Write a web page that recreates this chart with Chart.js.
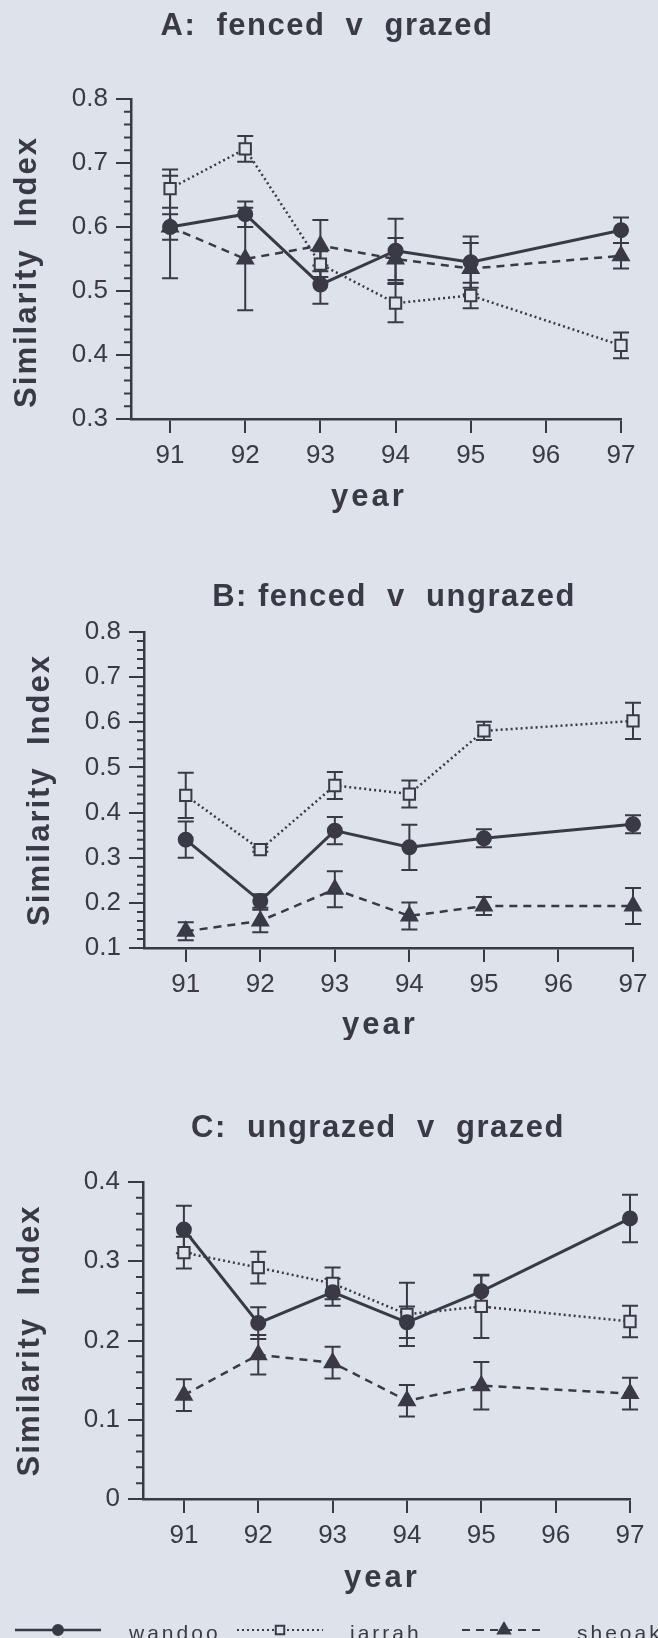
<!DOCTYPE html>
<html>
<head>
<meta charset="utf-8">
<title>Similarity Index</title>
<script src="https://cdn.jsdelivr.net/npm/chart.js@4.4.1/dist/chart.umd.min.js"></script>
<style>
  body { margin: 0; background: #dee2eb; }
  #wrap { position: relative; width: 658px; height: 1638px; overflow: hidden; }
  canvas { position: absolute; left: 0; }
</style>
</head>
<body>
<div id="wrap">
  <canvas id="chartA" width="658" height="520" style="top:0px"></canvas>
  <canvas id="chartB" width="658" height="500" style="top:540px"></canvas>
  <canvas id="chartC" width="658" height="598" style="top:1040px"></canvas>
</div>
<script>
// ---- data ----
const years = [91, 92, 93, 94, 95, 97];
const yearTicks = [91, 92, 93, 94, 95, 96, 97];
const seriesNames = ['wandoo', 'jarrah', 'sheoak'];

// A: fenced v grazed
const wandooA = [0.60, 0.62, 0.51, 0.563, 0.545, 0.595];
const wandooAErr = [0.08, 0.02, 0.03, 0.05, 0.04, 0.02];
const jarrahA = [0.66, 0.722, 0.542, 0.481, 0.493, 0.415];
const jarrahAErr = [0.03, 0.02, 0.02, 0.03, 0.02, 0.02];
const sheoakA = [0.60, 0.55, 0.571, 0.55, 0.535, 0.555];
const sheoakAErr = [0.02, 0.08, 0.04, 0.033, 0.04, 0.02];
const yTicksA = ['0.3', '0.4', '0.5', '0.6', '0.7', '0.8'];

// B: fenced v ungrazed
const wandooB = [0.34, 0.204, 0.36, 0.323, 0.343, 0.374];
const wandooBErr = [0.04, 0.015, 0.03, 0.05, 0.02, 0.02];
const jarrahB = [0.438, 0.318, 0.46, 0.441, 0.581, 0.603];
const jarrahBErr = [0.05, 0.005, 0.03, 0.03, 0.02, 0.04];
const sheoakB = [0.137, 0.16, 0.23, 0.171, 0.193, 0.193];
const sheoakBErr = [0.02, 0.025, 0.04, 0.03, 0.02, 0.04];
const yTicksB = ['0.1', '0.2', '0.3', '0.4', '0.5', '0.6', '0.7', '0.8'];

// C: ungrazed v grazed
const wandooC = [0.34, 0.222, 0.261, 0.223, 0.262, 0.354];
const wandooCErr = [0.03, 0.02, 0.017, 0.02, 0.02, 0.03];
const jarrahC = [0.311, 0.292, 0.272, 0.233, 0.243, 0.224];
const jarrahCErr = [0.02, 0.02, 0.02, 0.04, 0.04, 0.02];
const sheoakC = [0.131, 0.182, 0.172, 0.124, 0.143, 0.133];
const sheoakCErr = [0.02, 0.025, 0.02, 0.02, 0.03, 0.02];
const yTicksC = ['0', '0.1', '0.2', '0.3', '0.4'];

// ---- look ----
const INK = '#3a3a46';
const BG = '#dee2eb';
const FONT = "'Liberation Sans', Arial, sans-serif";

const styles = [
  { borderWidth: 3, borderDash: [], pointStyle: 'circle', pointRadius: 7, fill: INK },
  { borderWidth: 2.5, borderDash: [2, 3], pointStyle: 'rect', pointRadius: 8, fill: BG },
  { borderWidth: 2.5, borderDash: [8, 6], pointStyle: 'triangle', pointRadius: 9, fill: INK }
];

function spacedText(ctx, text, x, y, font, spacing, rotate) {
  ctx.save();
  ctx.translate(x, y);
  if (rotate) ctx.rotate(-Math.PI / 2);
  ctx.font = font;
  ctx.letterSpacing = spacing + 'px';
  ctx.fillStyle = INK;
  ctx.textAlign = 'center';
  ctx.textBaseline = 'middle';
  ctx.fillText(text, 0, 0);
  ctx.restore();
}

// error bars, drawn under the lines and points
const errorBars = {
  id: 'errorBars',
  beforeDatasetsDraw(chart, args, opts) {
    const { ctx, scales: { x, y } } = chart;
    ctx.save();
    ctx.strokeStyle = INK;
    ctx.lineWidth = 2;
    chart.data.datasets.forEach((ds, i) => {
      const errs = opts.errors[i];
      ds.data.forEach((p, j) => {
        const px = x.getPixelForValue(p.x);
        const top = y.getPixelForValue(p.y + errs[j]);
        const bot = y.getPixelForValue(p.y - errs[j]);
        ctx.beginPath();
        ctx.moveTo(px, top); ctx.lineTo(px, bot);
        ctx.moveTo(px - 8, top); ctx.lineTo(px + 8, top);
        ctx.moveTo(px - 8, bot); ctx.lineTo(px + 8, bot);
        ctx.stroke();
      });
    });
    ctx.restore();
  }
};

// minor y ticks, titles and legend
const panelText = {
  id: 'panelText',
  afterDraw(chart, args, opts) {
    const { ctx, chartArea, scales: { y } } = chart;
    ctx.save();
    ctx.strokeStyle = INK;
    ctx.lineWidth = 2;
    ctx.beginPath();
    for (let k = 0; k * 0.02 <= y.max - y.min + 1e-9; k++) {
      if (k % 5 === 0) continue;
      const py = y.getPixelForValue(y.min + k * 0.02);
      ctx.moveTo(chartArea.left, py);
      ctx.lineTo(chartArea.left - 7, py);
    }
    ctx.stroke();
    ctx.restore();

    spacedText(ctx, opts.title, opts.titleX, opts.titleY, 'bold 31px ' + FONT, 1.5);
    spacedText(ctx, 'Similarity  Index', opts.yTitleX,
      (chartArea.top + chartArea.bottom) / 2 + (opts.yTitleShift || 0),
      'bold 31px ' + FONT, 2, true);
    spacedText(ctx, 'year', opts.yearX, opts.yearY, 'bold 31px ' + FONT, 3);

    if (opts.legend) {
      const L = opts.legend;
      seriesNames.forEach((name, i) => {
        const st = styles[i];
        const [x1, x2] = L.lines[i];
        ctx.save();
        ctx.strokeStyle = INK;
        ctx.lineWidth = st.borderWidth - 0.5;
        ctx.setLineDash(st.borderDash);
        ctx.beginPath();
        ctx.moveTo(x1, L.y); ctx.lineTo(x2, L.y);
        ctx.stroke();
        ctx.setLineDash([]);
        ctx.fillStyle = st.fill;
        ctx.lineWidth = 2;
        Chart.helpers.drawPoint(ctx, { pointStyle: st.pointStyle, radius: st.pointRadius - 2, borderWidth: 2, rotation: 0 },
          (x1 + x2) / 2, L.y);
        ctx.restore();
        ctx.save();
        ctx.font = '21px ' + FONT;
        ctx.letterSpacing = '3px';
        ctx.fillStyle = INK;
        ctx.textBaseline = 'alphabetic';
        ctx.fillText(name, L.text[i], L.textY);
        ctx.restore();
      });
    }
  }
};

function makePanel(id, L, series, errors, yLabels, extra) {
  const canvas = document.getElementById(id);
  const W = canvas.width, H = canvas.height;
  const datasets = series.map((vals, i) => ({
    label: seriesNames[i],
    data: years.map((yr, j) => ({ x: yr, y: vals[j] })),
    borderColor: INK,
    borderWidth: styles[i].borderWidth,
    borderDash: styles[i].borderDash,
    pointStyle: styles[i].pointStyle,
    pointRadius: styles[i].pointRadius,
    pointBackgroundColor: styles[i].fill,
    pointBorderColor: INK,
    pointBorderWidth: 2,
    tension: 0,
    fill: false,
    clip: false
  }));
  const yVals = yLabels.map(Number);
  return new Chart(canvas, {
    type: 'line',
    data: { datasets },
    options: {
      responsive: false,
      animation: false,
      devicePixelRatio: 1,
      events: [],
      layout: { padding: { left: 0, top: L.top, right: W - L.right, bottom: 0 } },
      plugins: {
        legend: { display: false },
        tooltip: { enabled: false },
        errorBars: { errors },
        panelText: Object.assign({ title: L.title, titleX: L.titleX, titleY: L.titleY,
          yTitleX: L.yTitleX, yTitleShift: L.yTitleShift, yearX: L.yearX, yearY: L.yearY }, extra || {})
      },
      scales: {
        x: {
          type: 'linear',
          min: L.xMin,
          max: 97,
          afterBuildTicks: s => { s.ticks = yearTicks.map(v => ({ value: v })); },
          afterFit: s => { s.height = H - L.bottom; },
          ticks: { color: INK, font: { family: FONT, size: 26 }, padding: 7, maxRotation: 0, autoSkip: false,
            callback: v => String(v) },
          grid: { display: true, drawOnChartArea: false, drawTicks: true, tickLength: 14, color: INK, lineWidth: 2 },
          border: { display: true, color: INK, width: 2.5 }
        },
        y: {
          type: 'linear',
          min: yVals[0],
          max: yVals[yVals.length - 1],
          afterBuildTicks: s => { s.ticks = yVals.map(v => ({ value: v })); },
          afterFit: s => { s.width = L.left; },
          ticks: { color: INK, font: { family: FONT, size: 26 }, padding: 8,
            callback: (v, i) => yLabels[i] },
          grid: { display: true, drawOnChartArea: false, drawTicks: true, tickLength: 15, color: INK, lineWidth: 2 },
          border: { display: true, color: INK, width: 2.5 }
        }
      }
    },
    plugins: [errorBars, panelText]
  });
}

makePanel('chartA',
  { title: 'A:  fenced  v  grazed', left: 131, right: 621, top: 99, bottom: 419, xMin: 90.48,
    titleX: 327, titleY: 26, yTitleX: 27, yTitleShift: 13, yearX: 369, yearY: 497 },
  [wandooA, jarrahA, sheoakA], [wandooAErr, jarrahAErr, sheoakAErr], yTicksA);

makePanel('chartB',
  { title: 'B: fenced  v  ungrazed', left: 144, right: 633, top: 92, bottom: 408, xMin: 90.44,
    titleX: 394, titleY: 57, yTitleX: 40, yTitleShift: 0, yearX: 380, yearY: 485 },
  [wandooB, jarrahB, sheoakB], [wandooBErr, jarrahBErr, sheoakBErr], yTicksB);

makePanel('chartC',
  { title: 'C:  ungrazed  v  grazed', left: 143, right: 630, top: 142, bottom: 459, xMin: 90.45,
    titleX: 378, titleY: 88, yTitleX: 30, yTitleShift: 0, yearX: 382, yearY: 538 },
  [wandooC, jarrahC, sheoakC], [wandooCErr, jarrahCErr, sheoakCErr], yTicksC,
  { legend: { y: 590, textY: 600, lines: [[15, 101], [237, 323], [462, 546]], text: [129, 350, 577] } });
</script>
</body>
</html>
